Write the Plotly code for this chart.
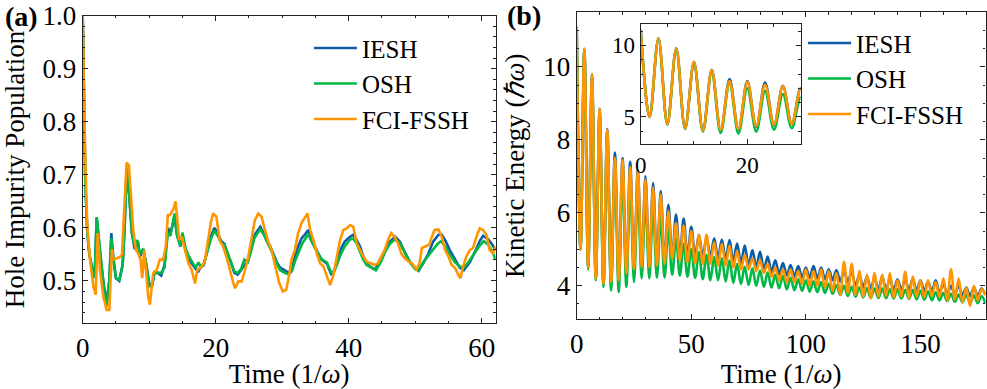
import plotly.graph_objects as go

# ---------------- Panel (a): Hole impurity population ----------------
t_iesh_a = [0, 0.2, 0.4, 0.7, 1.0, 1.5, 1.8, 2.1, 2.4, 2.8, 3.2, 3.6, 4.0, 4.3, 4.6, 5.0, 5.5, 6.0, 6.3, 6.6,
            7.0, 7.4, 7.8, 8.3, 8.6, 9.1, 9.5, 10.0, 10.4, 10.8, 11.3, 11.8, 12.3, 12.8, 13.2, 13.8, 14.2, 14.7,
            15.0, 15.5, 16.0, 16.5, 17.0, 17.4, 17.7, 18.2, 18.7, 19.3, 19.8, 20.3, 20.8, 21.3, 21.8, 22.3, 22.8,
            23.3, 23.8, 24.3, 24.8, 25.3, 25.8, 26.3, 26.7, 27.2, 27.7, 28.2, 28.7, 29.2, 29.7, 30.3, 30.9, 31.4,
            31.9, 32.4, 32.9, 33.4, 33.9, 34.4, 34.9, 35.4, 35.9, 36.7, 37.4, 37.9, 38.4, 38.9, 39.4, 40.2, 40.7,
            41.2, 41.7, 42.2, 42.7, 43.2, 44.0, 44.7, 45.5, 46.2, 47.0, 47.7, 48.5, 49.2, 50.0, 50.5, 51.2, 52.0,
            52.7, 53.5, 54.0, 54.5, 55.2, 56.0, 56.7, 57.3, 58.2, 59.0, 59.7, 60.2, 61.0, 61.6, 62.1]
v_iesh_a = [1.0, 0.8, 0.68, 0.59, 0.55, 0.52, 0.51, 0.62, 0.58, 0.53, 0.49, 0.46, 0.50, 0.59, 0.545, 0.505, 0.50,
            0.53, 0.60, 0.71, 0.66, 0.59, 0.56, 0.575, 0.545, 0.56, 0.535, 0.495, 0.49, 0.515, 0.515, 0.51, 0.53,
            0.60, 0.59, 0.62, 0.585, 0.565, 0.585, 0.555, 0.54, 0.53, 0.522, 0.518, 0.525, 0.53, 0.555, 0.585,
            0.60, 0.59, 0.575, 0.57, 0.55, 0.535, 0.515, 0.512, 0.52, 0.53, 0.535, 0.56, 0.585, 0.595, 0.602,
            0.59, 0.575, 0.565, 0.55, 0.535, 0.525, 0.52, 0.516, 0.518, 0.546, 0.565, 0.58, 0.587, 0.596, 0.577,
            0.565, 0.552, 0.54, 0.533, 0.511, 0.521, 0.546, 0.562, 0.574, 0.583, 0.587, 0.577, 0.565, 0.546,
            0.533, 0.527, 0.521, 0.54, 0.558, 0.574, 0.583, 0.574, 0.552, 0.536, 0.524, 0.519, 0.533, 0.552,
            0.574, 0.587, 0.587, 0.577, 0.558, 0.54, 0.525, 0.52, 0.535, 0.555, 0.575, 0.585, 0.578, 0.568, 0.558]

t_osh_a = [0, 0.2, 0.4, 0.7, 1.0, 1.5, 1.8, 2.1, 2.4, 2.8, 3.2, 3.6, 4.0, 4.3, 4.6, 5.0, 5.5, 6.0, 6.3, 6.6,
           7.0, 7.4, 7.8, 8.2, 8.6, 9.1, 9.5, 10.0, 10.4, 10.8, 11.3, 11.8, 12.3, 12.8, 13.2, 13.8, 14.2, 14.7,
           15.0, 15.5, 16.0, 16.5, 17.0, 17.4, 17.7, 18.2, 18.7, 19.3, 19.8, 20.3, 20.8, 21.3, 21.8, 22.3, 22.8,
           23.3, 23.8, 24.3, 24.8, 25.3, 25.8, 26.3, 26.7, 27.2, 27.7, 28.2, 28.7, 29.2, 29.7, 30.4, 31.0, 31.5,
           32.0, 32.5, 33.0, 33.5, 33.9, 34.4, 35.0, 35.5, 36.0, 36.7, 37.2, 37.6, 38.2, 38.8, 39.4, 40.2, 40.7,
           41.2, 41.7, 42.2, 42.7, 43.4, 44.1, 44.8, 45.5, 46.2, 46.9, 47.6, 48.4, 49.2, 50.0, 50.5, 51.2, 52.0,
           52.7, 53.4, 53.9, 54.5, 55.2, 56.0, 56.7, 57.3, 58.0, 58.8, 59.6, 60.3, 61.0, 61.6, 62.1]
v_osh_a = [1.0, 0.8, 0.68, 0.59, 0.55, 0.515, 0.505, 0.62, 0.58, 0.53, 0.485, 0.452, 0.50, 0.58, 0.54, 0.505,
           0.502, 0.53, 0.60, 0.712, 0.66, 0.59, 0.565, 0.577, 0.55, 0.56, 0.535, 0.49, 0.49, 0.517, 0.515, 0.515,
           0.525, 0.59, 0.585, 0.627, 0.585, 0.565, 0.591, 0.56, 0.545, 0.535, 0.525, 0.535, 0.528, 0.532, 0.553,
           0.58, 0.595, 0.585, 0.572, 0.568, 0.552, 0.535, 0.518, 0.515, 0.522, 0.54, 0.535, 0.555, 0.58, 0.59,
           0.597, 0.588, 0.575, 0.562, 0.548, 0.532, 0.52, 0.515, 0.512, 0.52, 0.54, 0.555, 0.57, 0.58, 0.588,
           0.575, 0.56, 0.548, 0.54, 0.535, 0.52, 0.512, 0.53, 0.55, 0.565, 0.578, 0.58, 0.57, 0.555, 0.54, 0.53,
           0.525, 0.52, 0.535, 0.555, 0.57, 0.578, 0.572, 0.555, 0.535, 0.522, 0.52, 0.535, 0.548, 0.56, 0.57,
           0.575, 0.565, 0.55, 0.535, 0.527, 0.525, 0.535, 0.55, 0.565, 0.575, 0.568, 0.555, 0.54]

t_fci_a = [0, 0.2, 0.4, 0.7, 1.1, 1.6, 1.95, 2.25, 2.6, 3.1, 3.6, 4.0, 4.2, 4.4, 4.6, 5.1, 5.6, 5.9, 6.1, 6.35,
           6.6, 6.95, 7.2, 7.6, 8.0, 8.35, 8.7, 8.95, 9.25, 9.6, 9.85, 10.1, 10.35, 10.6, 11.1, 11.6, 12.1, 12.5,
           12.8, 13.1, 13.6, 13.95, 14.2, 14.5, 14.9, 15.4, 15.9, 16.4, 16.9, 17.2, 17.9, 18.35, 18.85, 19.25,
           19.6, 20.1, 20.6, 21.1, 21.6, 22.1, 22.65, 22.9, 23.4, 23.9, 24.4, 24.9, 25.4, 25.9, 26.4, 26.9, 27.4,
           27.9, 28.4, 28.9, 29.55, 30.1, 30.6, 31.0, 31.4, 31.9, 32.4, 32.9, 33.4, 33.8, 34.2, 34.7, 35.2, 35.7,
           36.2, 36.7, 37.2, 37.7, 38.2, 38.7, 39.2, 39.7, 40.2, 40.7, 41.2, 41.7, 42.2, 42.7, 43.2, 43.9, 44.4,
           44.9, 45.4, 45.9, 46.4, 46.9, 47.4, 47.9, 48.4, 49.0, 49.5, 50.2, 50.7, 51.0, 51.5, 52.1, 52.5, 52.9,
           53.5, 54.0, 54.5, 55.0, 55.5, 56.0, 56.5, 56.8, 57.2, 57.7, 58.2, 58.7, 59.2, 59.7, 60.2, 60.7, 61.2,
           61.7, 62.1]
v_fci_a = [1.0, 0.85, 0.72, 0.60, 0.54, 0.49, 0.474, 0.59, 0.52, 0.47, 0.445, 0.445, 0.495, 0.56, 0.54, 0.543,
           0.545, 0.549, 0.60, 0.684, 0.723, 0.718, 0.67, 0.596, 0.558, 0.552, 0.54, 0.505, 0.558, 0.508, 0.47,
           0.455, 0.483, 0.514, 0.52, 0.54, 0.54, 0.565, 0.624, 0.624, 0.634, 0.65, 0.62, 0.577, 0.583, 0.558,
           0.533, 0.52, 0.495, 0.52, 0.527, 0.536, 0.577, 0.609, 0.627, 0.621, 0.577, 0.565, 0.546, 0.52, 0.496,
           0.486, 0.499, 0.499, 0.52, 0.546, 0.583, 0.615, 0.627, 0.621, 0.596, 0.574, 0.558, 0.533, 0.496,
           0.48, 0.483, 0.508, 0.54, 0.558, 0.59, 0.609, 0.618, 0.627, 0.596, 0.577, 0.552, 0.533, 0.527,
           0.511, 0.492, 0.511, 0.546, 0.577, 0.596, 0.599, 0.605, 0.602, 0.571, 0.558, 0.546, 0.536, 0.533,
           0.53, 0.533, 0.546, 0.558, 0.577, 0.59, 0.583, 0.571, 0.552, 0.543, 0.536, 0.533, 0.522, 0.536,
           0.562, 0.565, 0.568, 0.583, 0.596, 0.597, 0.583, 0.558, 0.546, 0.53, 0.524, 0.511, 0.505, 0.527,
           0.546, 0.558, 0.562, 0.583, 0.599, 0.596, 0.587, 0.558, 0.552, 0.565]

# ---------------- Panel (b): Kinetic energy (turning points of the oscillation) ----------------
t_b = [0, 1.67, 3.33, 5, 6.67, 8.33, 10, 11.67, 13.33, 15, 16.67, 18.33, 20, 21.67, 23.33, 25, 26.67, 28.33,
       30, 31.67, 33.33, 35, 36.67, 38.33, 40, 41.67, 43.33, 45, 46.67, 48.33, 50, 51.67, 53.33, 55, 56.67,
       58.33, 60, 61.67, 63.33, 65, 66.67, 68.33, 70, 71.67, 73.33, 75, 76.67, 78.33, 80, 81.67, 83.33, 85,
       86.67, 88.33, 90, 91.67, 93.33, 95, 96.67, 98.33, 100, 101.67, 103.33, 105, 106.67, 108.33, 110, 111.67,
       113.33, 115, 116.67, 118.33, 120, 121.67, 123.33, 125, 126.67, 128.33, 130, 131.67, 133.33, 135, 136.67,
       138.33, 140, 141.67, 143.33, 145, 146.67, 148.33, 150, 151.67, 153.33, 155, 156.67, 158.33, 160, 161.67,
       163.33, 165, 166.67, 168.33, 170, 171.67, 173.33, 175, 176.67, 178.33]
ke_iesh = [11.1, 5.0, 10.5, 4.5, 9.8, 4.2, 8.85, 4.05, 8.3, 4.05, 7.65, 4.1, 7.5, 4.3, 7.4, 4.4, 7.18, 4.5,
           7.0, 4.55, 6.82, 4.6, 6.6, 4.65, 6.22, 4.75, 5.95, 4.8, 5.84, 4.8, 5.62, 4.8, 5.4, 4.8, 5.32, 4.8,
           5.3, 4.75, 5.27, 4.72, 5.25, 4.68, 5.16, 4.62, 5.1, 4.55, 4.98, 4.5, 4.93, 4.45, 4.8, 4.38, 4.7, 4.32,
           4.62, 4.28, 4.57, 4.25, 4.54, 4.22, 4.5, 4.22, 4.54, 4.2, 4.5, 4.18, 4.45, 4.15, 4.43, 4.12, 4.42,
           4.1, 4.38, 4.0, 4.3, 3.95, 4.25, 3.92, 4.22, 3.9, 4.25, 3.9, 4.2, 3.88, 4.18, 3.88, 4.2, 3.87, 4.2,
           3.86, 4.15, 3.85, 4.12, 3.85, 4.15, 3.82, 4.05, 3.78, 4.0, 3.76, 4.0, 3.74, 3.95, 3.72, 3.95, 3.72,
           3.92, 3.75]
ke_osh = [11.1, 5.0, 10.45, 4.45, 9.7, 4.15, 8.7, 3.97, 8.1, 3.87, 7.35, 3.83, 7.0, 3.97, 6.8, 4.1, 6.6, 4.2,
          6.35, 4.2, 6.1, 4.22, 5.85, 4.23, 5.55, 4.3, 5.3, 4.28, 5.15, 4.25, 5.0, 4.22, 4.92, 4.18, 4.85, 4.15,
          4.79, 4.15, 4.75, 4.12, 4.7, 4.08, 4.6, 4.05, 4.52, 4.02, 4.48, 4.0, 4.42, 3.97, 4.36, 3.95, 4.3, 3.93,
          4.27, 3.9, 4.22, 3.88, 4.18, 3.86, 4.15, 3.84, 4.12, 3.82, 4.1, 3.8, 4.05, 3.78, 4.02, 3.75, 4.0, 3.72,
          3.97, 3.7, 3.95, 3.68, 3.93, 3.67, 3.92, 3.66, 3.92, 3.66, 3.9, 3.65, 3.9, 3.65, 3.88, 3.64, 3.88,
          3.63, 3.86, 3.62, 3.84, 3.6, 3.82, 3.6, 3.8, 3.58, 3.78, 3.56, 3.76, 3.55, 3.75, 3.53, 3.74, 3.52,
          3.72, 3.52]
ke_fci = [11.1, 5.0, 10.5, 4.5, 9.8, 4.2, 8.85, 4.05, 8.28, 4.1, 7.5, 4.15, 7.45, 4.35, 7.25, 4.45, 7.15, 4.5,
          6.92, 4.5, 6.7, 4.55, 6.5, 4.6, 6.05, 4.75, 5.72, 4.7, 5.65, 4.65, 5.5, 4.62, 5.4, 4.6, 5.4, 4.6, 5.2,
          4.55, 5.15, 4.55, 5.1, 4.5, 4.95, 4.45, 4.85, 4.45, 4.75, 4.4, 4.7, 4.35, 4.6, 4.25, 4.5, 4.15, 4.45,
          4.1, 4.45, 4.1, 4.4, 4.05, 4.45, 4.0, 4.4, 4.0, 4.45, 3.95, 4.4, 3.85, 4.35, 3.75, 4.66, 3.8, 4.6,
          3.75, 4.4, 3.7, 4.3, 3.65, 4.35, 3.7, 4.3, 3.72, 4.35, 3.68, 4.15, 3.7, 4.38, 3.65, 4.25, 3.7, 4.15,
          3.68, 4.15, 3.72, 4.1, 3.7, 4.2, 3.6, 4.45, 3.62, 4.2, 3.55, 3.95, 3.45, 4.0, 3.6, 3.9, 3.75]

series_names = ["IESH", "OSH", "FCI-FSSH"]
colors = ["#0C5DA5", "#00B945", "#FF9500"]

FONT = "Liberation Serif"
LW = 2.6

fig = go.Figure()

for name, col, tx, vy in zip(series_names, colors,
                             [t_iesh_a, t_osh_a, t_fci_a], [v_iesh_a, v_osh_a, v_fci_a]):
    fig.add_trace(go.Scatter(x=tx, y=vy, mode="lines", name=name, line=dict(color=col, width=LW),
                             xaxis="x", yaxis="y", legend="legend"))

for name, col, vy in zip(series_names, colors, [ke_iesh, ke_osh, ke_fci]):
    fig.add_trace(go.Scatter(x=t_b, y=vy, mode="lines", name=name,
                             line=dict(color=col, width=LW, shape="spline", smoothing=1),
                             xaxis="x2", yaxis="y2", legend="legend2"))

for name, col, vy in zip(series_names, colors, [ke_iesh, ke_osh, ke_fci]):
    fig.add_trace(go.Scatter(x=t_b, y=vy, mode="lines", name=name, showlegend=False,
                             line=dict(color=col, width=LW, shape="spline", smoothing=1),
                             xaxis="x3", yaxis="y3"))


def ax(domain, rng, dtick, mdtick, anchor, size=27, fmt=None):
    d = dict(domain=domain, range=rng, anchor=anchor, dtick=dtick, tick0=0, automargin=False,
             ticks="inside", ticklen=5, tickwidth=1.2, tickcolor="#222",
             mirror="allticks", showline=True, linecolor="#222", linewidth=1.3,
             showgrid=False, zeroline=False,
             tickfont=dict(family=FONT, size=size, color="black"),
             minor=dict(dtick=mdtick, ticks="inside", ticklen=2.5, tickwidth=1, tickcolor="#222", showgrid=False))
    if fmt:
        d["tickformat"] = fmt
    return d


title_font = dict(family=FONT, size=27, color="black")

fig.update_layout(
    width=987, height=389,
    margin=dict(l=0, r=0, t=0, b=0, autoexpand=False),
    paper_bgcolor="white", plot_bgcolor="white",
    xaxis=ax([0.0838, 0.5022], [0, 62.1], 20, 5, "y"),
    yaxis=ax([0.1689, 0.9596], [0.42, 1.0], 0.1, 0.02, "x", fmt=".1f"),
    xaxis2=ax([0.5843, 0.9985], [0, 178.4], 50, 10, "y2"),
    yaxis2=ax([0.1792, 0.9684], [3.08, 11.5], 2, 0.5, "x2"),
    xaxis3=ax([0.6491, 0.8112], [0, 30], 20, 5, "y3", size=23),
    yaxis3=ax([0.6298, 0.9383], [3.1, 11.5], 5, 1, "x3", size=23),
    legend=dict(x=0.313, y=0.935, xanchor="left", yanchor="top", bgcolor="rgba(0,0,0,0)",
                font=dict(family=FONT, size=25, color="black"), itemwidth=43, tracegroupgap=0),
    legend2=dict(x=0.8136, y=0.948, xanchor="left", yanchor="top", bgcolor="rgba(0,0,0,0)",
                 font=dict(family=FONT, size=25, color="black"), itemwidth=43, tracegroupgap=0),
    showlegend=True,
)

fig.update_layout(
    xaxis_title=dict(text="Time (1/<i>ω</i>)", font=title_font, standoff=13),
    xaxis2_title=dict(text="Time (1/<i>ω</i>)", font=title_font, standoff=11),
    yaxis_title=dict(text="Hole Impurity Population", font=title_font, standoff=12),
    yaxis2_title=dict(text="Kinetic Energy (<i>ℏω</i>)", font=title_font, standoff=10),
)

fig.add_annotation(text="<b>(a)</b>", x=0.003, y=1 - 17 / 389, xref="paper", yref="paper",
                   xanchor="left", yanchor="middle", showarrow=False,
                   font=dict(family=FONT, size=28, color="black"))
fig.add_annotation(text="<b>(b)</b>", x=505 / 987, y=1 - 15 / 389, xref="paper", yref="paper",
                   xanchor="left", yanchor="middle", showarrow=False,
                   font=dict(family=FONT, size=28, color="black"))

fig.write_html("out.html", config={"displayModeBar": False},
               post_script="document.body.style.margin='0px';document.body.style.padding='0px';")
